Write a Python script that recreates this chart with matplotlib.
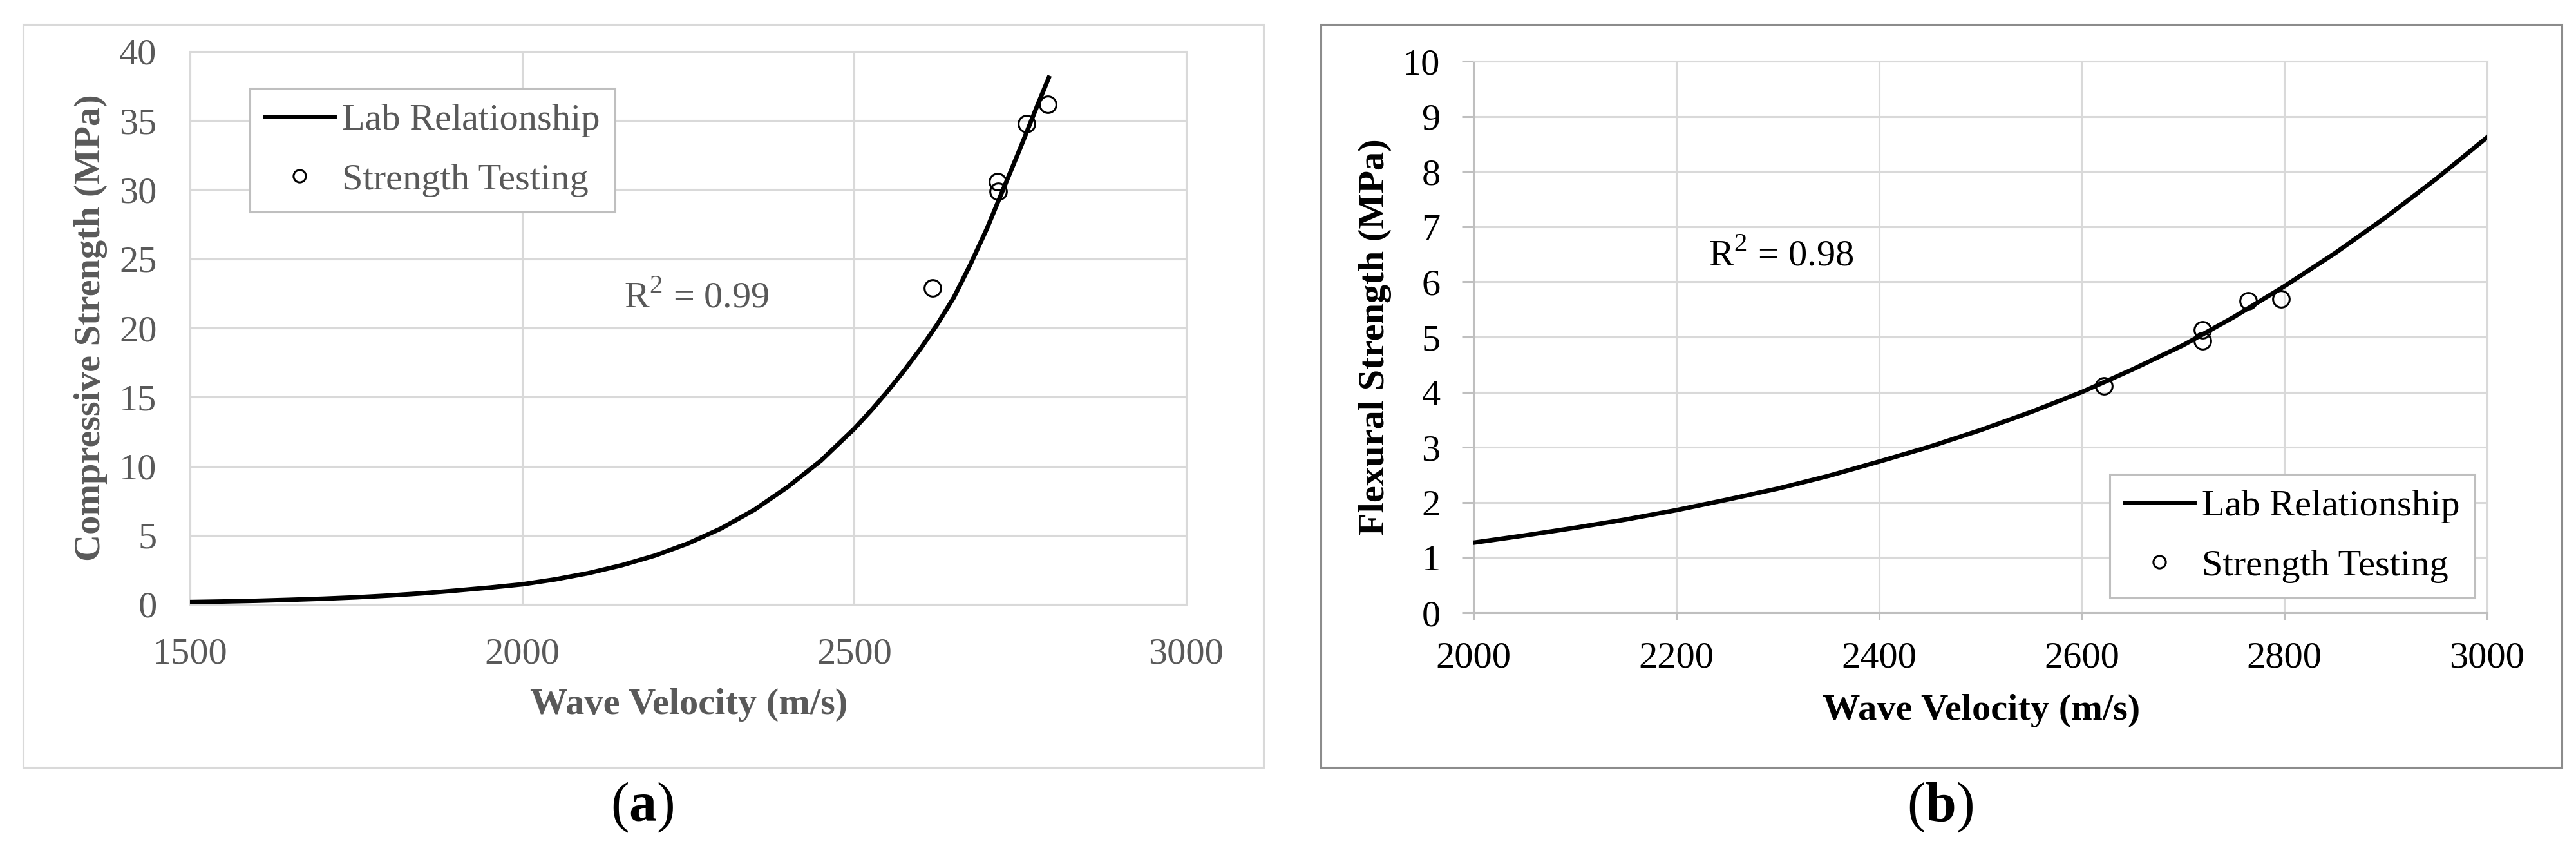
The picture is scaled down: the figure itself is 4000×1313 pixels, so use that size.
import matplotlib
matplotlib.use("Agg")
import matplotlib.pyplot as plt
import matplotlib.ticker as ticker
from matplotlib.patches import Rectangle

plt.rcParams["font.family"] = ["Liberation Serif", "DejaVu Serif"]
plt.rcParams["mathtext.fontset"] = "custom"
plt.rcParams["mathtext.rm"] = "Liberation Serif"
plt.rcParams["mathtext.bf"] = "Liberation Serif:bold"

# (a) compressive strength: fitted lab curve
comp_curve_v = [1500, 1550, 1600, 1650, 1700, 1750, 1800, 1850, 1900, 1950, 2000,
                2050, 2100, 2150, 2200, 2250, 2300, 2350, 2400, 2450, 2500, 2525,
                2550, 2575, 2600, 2625, 2650, 2675, 2700, 2725, 2750, 2775, 2793]
comp_curve_s = [0.17, 0.21, 0.26, 0.33, 0.41, 0.51, 0.64, 0.80, 1.00, 1.21, 1.45,
                1.81, 2.26, 2.83, 3.53, 4.41, 5.50, 6.85, 8.50, 10.4, 12.7, 14.0,
                15.4, 16.9, 18.5, 20.25, 22.2, 24.6, 27.2, 30.1, 33.0, 36.0, 38.1]
comp_test_v = [2618, 2716, 2717, 2760, 2792]
comp_test_s = [22.9, 30.6, 29.9, 34.8, 36.2]

# (b) flexural strength
flex_curve_v = [2000, 2050, 2100, 2150, 2200, 2250, 2300, 2350, 2400, 2450, 2500,
                2550, 2600, 2650, 2700, 2750, 2800, 2850, 2900, 2950, 3000]
flex_curve_s = [1.27, 1.40, 1.54, 1.69, 1.86, 2.05, 2.25, 2.48, 2.74, 3.01, 3.31,
                3.64, 4.00, 4.41, 4.85, 5.36, 5.92, 6.52, 7.17, 7.87, 8.62]
flex_test_v = [2622, 2719, 2719, 2764, 2797]
flex_test_s = [4.11, 5.13, 4.93, 5.65, 5.69]

W, H = 4000, 1313
fig = plt.figure(figsize=(W / 100, H / 100), dpi=100)

GRID = "#d9d9d9"
GRAY_TXT = "#595959"
FS = 42


def px_axes(x0, y0, x1, y1):
    return fig.add_axes([x0 / W, 1 - y1 / H, (x1 - x0) / W, (y1 - y0) / H])


def style_axes(ax, txt_color, with_ticks):
    ax.grid(True, color=GRID, linewidth=2.2, zorder=0)
    ax.set_axisbelow(True)
    for s in ax.spines.values():
        s.set_color(GRID)
        s.set_linewidth(2.2)
    if with_ticks:
        ax.spines["left"].set_color("#bfbfbf")
        ax.spines["bottom"].set_color("#bfbfbf")
        ax.tick_params(axis="y", length=13, width=2.2, color="#bfbfbf", pad=24)
        ax.tick_params(axis="x", length=8, width=2.2, color="#bfbfbf", pad=24)
    else:
        ax.tick_params(length=0, pad=37)
    ax.tick_params(labelsize=FS, labelcolor=txt_color)


def draw_panel(ax, cv, cs, tv, ts):
    ax.plot(cv, cs, color="black", linewidth=5, label="Lab Relationship",
            solid_joinstyle="round", zorder=3)
    ax.plot(tv, ts, linestyle="none", marker="o", markersize=18.5,
            markerfacecolor="none", markeredgecolor="black", markeredgewidth=2.2,
            label="Strength Testing", zorder=4)


def add_legend(ax, x0, y0, txt_color):
    leg = ax.legend(loc="upper left", bbox_to_anchor=(x0 / W, 1 - y0 / H),
                    bbox_transform=fig.transFigure, borderaxespad=0,
                    fontsize=FS, frameon=True, fancybox=False, framealpha=1,
                    edgecolor="#bfbfbf", handlelength=1.85, handletextpad=0.2,
                    borderpad=0.4, labelspacing=0.68, markerscale=0.75)
    leg.get_frame().set_linewidth(2.2)
    for t in leg.get_texts():
        t.set_color(txt_color)
    return leg


# ---- panel (a)
fig.add_artist(Rectangle((36 / W, 1 - 1191 / H), (1962 - 36) / W, (1191 - 38) / H,
                         transform=fig.transFigure, fill=False,
                         edgecolor=GRID, linewidth=2.2))
ax1 = px_axes(295, 80, 1842, 938)
draw_panel(ax1, comp_curve_v, comp_curve_s, comp_test_v, comp_test_s)
ax1.set_xlim(1500, 3000)
ax1.set_ylim(0, 40)
ax1.xaxis.set_major_locator(ticker.MultipleLocator(500))
ax1.yaxis.set_major_locator(ticker.MultipleLocator(5))
style_axes(ax1, GRAY_TXT, False)
ax1.set_xlabel("Wave Velocity (m/s)", fontsize=FS, fontweight="bold",
               color=GRAY_TXT, va="center")
ax1.set_ylabel("Compressive Strength (MPa)", fontsize=FS, fontweight="bold",
               color=GRAY_TXT, va="center")
ax1.xaxis.set_label_coords(0.501, -0.182)
ax1.yaxis.set_label_coords(-0.0995, 0.5)
ax1.text(2154, 21.5, r"R$^2$ = 0.99", fontsize=FS, color=GRAY_TXT, va="baseline")
add_legend(ax1, 388, 137, GRAY_TXT)
fig.text(997 / W, 1 - 1253 / H, r"($\mathbf{a}$)", fontsize=62,
         ha="center", va="center")

# ---- panel (b)
fig.add_artist(Rectangle((2051 / W, 1 - 1191 / H), (3978 - 2051) / W, (1191 - 38) / H,
                         transform=fig.transFigure, fill=False,
                         edgecolor="#8c8c8c", linewidth=2.2))
ax2 = px_axes(2288, 95, 3862, 951)
draw_panel(ax2, flex_curve_v, flex_curve_s, flex_test_v, flex_test_s)
ax2.set_xlim(2000, 3000)
ax2.set_ylim(0, 10)
ax2.xaxis.set_major_locator(ticker.MultipleLocator(200))
ax2.yaxis.set_major_locator(ticker.MultipleLocator(1))
style_axes(ax2, "black", True)
ax2.set_xlabel("Wave Velocity (m/s)", fontsize=FS, fontweight="bold",
               color="black", va="center")
ax2.set_ylabel("Flexural Strength (MPa)", fontsize=FS, fontweight="bold",
               color="black", va="center")
ax2.xaxis.set_label_coords(0.501, -0.178)
ax2.yaxis.set_label_coords(-0.0972, 0.5)
ax2.text(2232, 6.30, r"R$^2$ = 0.98", fontsize=FS, color="black", va="baseline")
add_legend(ax2, 3276, 736, "black")
fig.text(3013 / W, 1 - 1253 / H, r"($\mathbf{b}$)", fontsize=62,
         ha="center", va="center")

fig.savefig("out.png", dpi=100, facecolor="white")
